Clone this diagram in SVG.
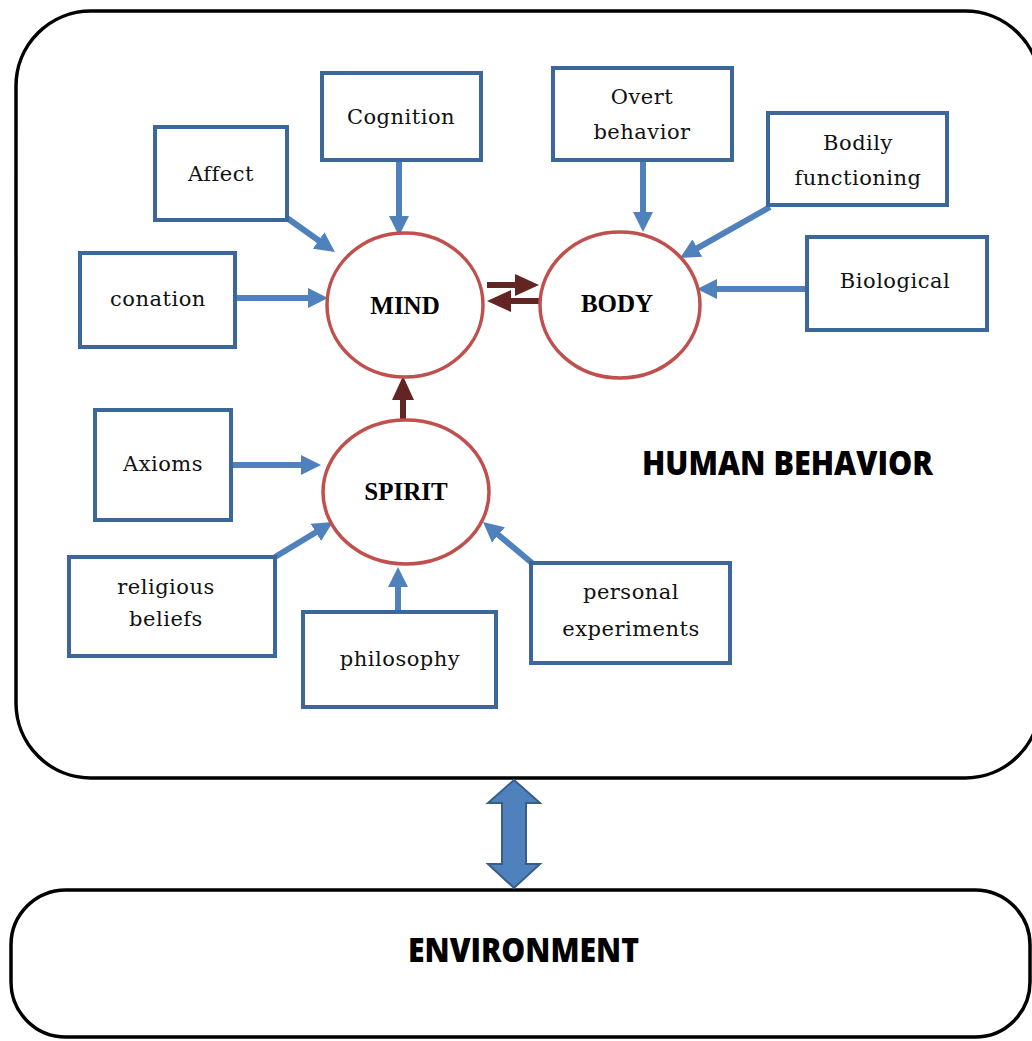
<svg xmlns="http://www.w3.org/2000/svg" width="1032" height="1041" viewBox="0 0 1032 1041">
<defs>
<style>
.frame{fill:#fff;stroke:#000;stroke-width:3.5}
.box{fill:#fff;stroke:#3b679b;stroke-width:4}
.ell{fill:#fff;stroke:#c0504d;stroke-width:3.5}
.lbl{font-family:"DejaVu Serif","Liberation Serif",serif;font-size:21px;letter-spacing:0.5px;fill:#111;text-anchor:middle}
.core{font-family:"Liberation Serif",serif;font-size:25px;font-weight:bold;fill:#000;text-anchor:middle}
.big{font-family:"Open Sans","Noto Sans",sans-serif;font-size:34px;font-weight:800;fill:#000}
.blue{stroke:#4f81bd;stroke-width:6;fill:none;marker-end:url(#hb)}
.red{stroke:#632523;stroke-width:6;fill:none;marker-end:url(#hr)}
</style>
<marker id="hb" markerUnits="userSpaceOnUse" markerWidth="20" markerHeight="20" refX="4" refY="10" orient="auto">
<path d="M0,0 L20,10 L0,20 z" fill="#4f81bd"/>
</marker>
<marker id="hr" markerUnits="userSpaceOnUse" markerWidth="24" markerHeight="22" refX="2" refY="11" orient="auto">
<path d="M0,0 L24,11 L0,22 z" fill="#632523"/>
</marker>
</defs>
<rect x="0" y="0" width="1032" height="1041" fill="#fff"/>

<g id="human-behavior">
<rect class="frame" x="16" y="11" width="1024" height="767" rx="75" ry="75"/>
<text class="big" x="642" y="475" textLength="291" lengthAdjust="spacingAndGlyphs">HUMAN BEHAVIOR</text>
</g>

<g id="environment">
<rect class="frame" x="11" y="890" width="1019" height="147" rx="55" ry="55"/>
<text class="big" x="408" y="962" textLength="231" lengthAdjust="spacingAndGlyphs">ENVIRONMENT</text>
</g>

<g id="connectors">
<path class="blue" d="M287,218 L321.9,242.8"/>
<path class="blue" d="M236,298 L312,298"/>
<path class="blue" d="M399,162 L399,220"/>
<path class="blue" d="M643,160 L643,216"/>
<path class="blue" d="M770,207 L693.9,250.1"/>
<path class="blue" d="M807,289 L713,289"/>
<path class="blue" d="M232,465 L305,465"/>
<path class="blue" d="M275,557 L319.3,530.3"/>
<path class="blue" d="M398,612 L398,583"/>
<path class="blue" d="M532,563 L495.3,532.3"/>
<path class="red" d="M487,285 L517,285"/>
<path class="red" d="M540,301 L509,301"/>
<path class="red" d="M403,421 L403,398"/>
<polygon id="env-link" points="514,780 540,803 526,803 526,864 540,864 514,888 488,864 502,864 502,803 488,803" fill="#4f81bd" stroke="#385d8a" stroke-width="2"/>
</g>

<g id="mind"><ellipse class="ell" cx="405" cy="305" rx="78" ry="72"/><text class="core" x="405" y="314">MIND</text></g>
<g id="body"><ellipse class="ell" cx="620" cy="305" rx="80" ry="73"/><text class="core" x="617" y="312">BODY</text></g>
<g id="spirit"><ellipse class="ell" cx="406" cy="492" rx="83" ry="72"/><text class="core" x="406" y="500">SPIRIT</text></g>

<g id="affect"><rect class="box" x="155" y="127" width="132" height="93"/><text class="lbl" x="221" y="181">Affect</text></g>
<g id="conation"><rect class="box" x="80" y="253" width="155" height="94"/><text class="lbl" x="158" y="306">conation</text></g>
<g id="cognition"><rect class="box" x="322" y="73" width="159" height="87"/><text class="lbl" x="401" y="124">Cognition</text></g>
<g id="overt-behavior"><rect class="box" x="553" y="68" width="179" height="92"/><text class="lbl" x="642" y="104">Overt</text><text class="lbl" x="642" y="139">behavior</text></g>
<g id="bodily-functioning"><rect class="box" x="768" y="113" width="179" height="92"/><text class="lbl" x="858" y="150">Bodily</text><text class="lbl" x="858" y="185">functioning</text></g>
<g id="biological"><rect class="box" x="807" y="237" width="180" height="93"/><text class="lbl" x="895" y="288">Biological</text></g>
<g id="axioms"><rect class="box" x="95" y="410" width="136" height="110"/><text class="lbl" x="163" y="471">Axioms</text></g>
<g id="religious-beliefs"><rect class="box" x="69" y="557" width="206" height="99"/><text class="lbl" x="166" y="594">religious</text><text class="lbl" x="166" y="626">beliefs</text></g>
<g id="philosophy"><rect class="box" x="303" y="612" width="193" height="95"/><text class="lbl" x="400" y="666">philosophy</text></g>
<g id="personal-experiments"><rect class="box" x="531" y="563" width="199" height="100"/><text class="lbl" x="631" y="599">personal</text><text class="lbl" x="631" y="636">experiments</text></g>
</svg>
